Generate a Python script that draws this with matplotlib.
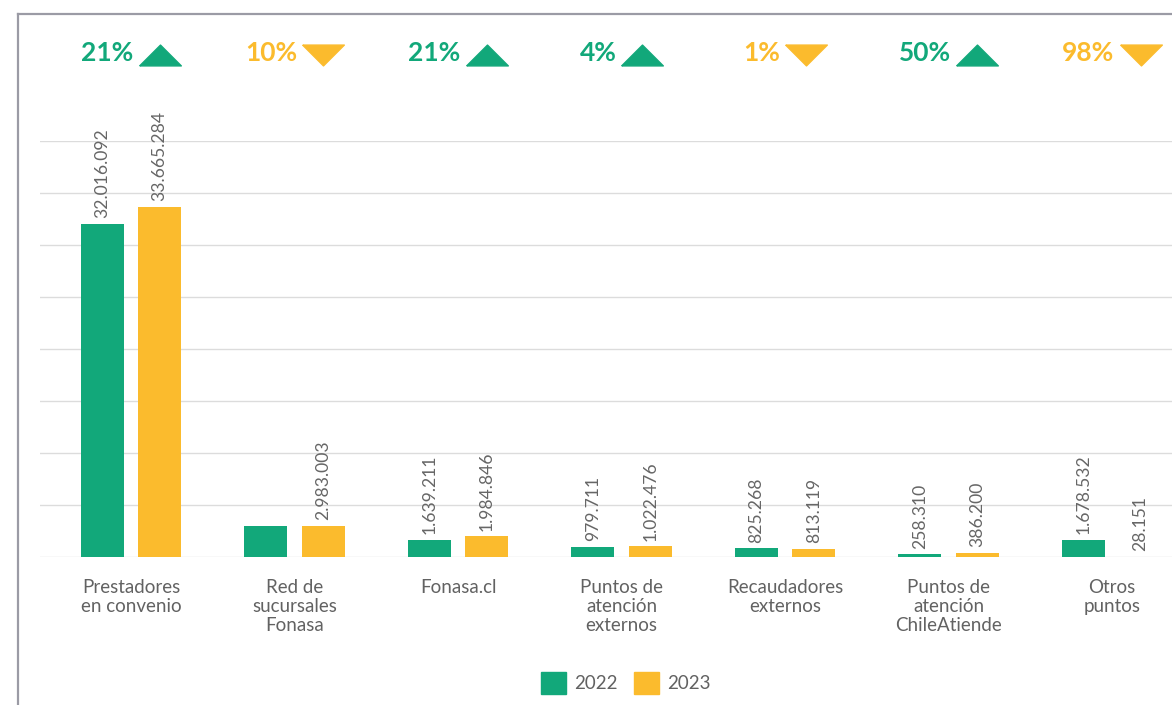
import matplotlib
matplotlib.use("Agg")
import numpy as np
import matplotlib.pyplot as plt
import matplotlib.transforms as mtransforms
from matplotlib.lines import Line2D
from matplotlib.patches import Patch

plt.rcParams['font.family'] = ['Lato', 'DejaVu Sans']

categories = ["Prestadores\nen convenio", "Red de\nsucursales\nFonasa", "Fonasa.cl",
              "Puntos de\natención\nexternos", "Recaudadores\nexternos",
              "Puntos de\natención\nChileAtiende", "Otros\npuntos"]
v2022 = [32016092, 2950000, 1639211, 979711, 825268, 258310, 1678532]
v2023 = [33665284, 2983003, 1984846, 1022476, 813119, 386200, 28151]
# the 2022 bar of "Red de sucursales" has no label in the original
lab2022 = ["32.016.092", "", "1.639.211", "979.711", "825.268", "258.310", "1.678.532"]
lab2023 = ["33.665.284", "2.983.003", "1.984.846", "1.022.476", "813.119", "386.200", "28.151"]
pct = ["21%", "10%", "21%", "4%", "1%", "50%", "98%"]
trend = ["up", "down", "up", "up", "down", "up", "down"]

GREEN = "#12a87a"
YELLOW = "#fbbb2d"
GRAY = "#626262"

W, H, DPI = 1172, 705, 100
fig = plt.figure(figsize=(W / DPI, H / DPI), dpi=DPI)
ax = fig.add_axes([40 / W, 1 - 557 / H, 1 - 40 / W, 416 / H])

x = np.arange(len(categories))
bw = 0.263
off = 0.175
ax.bar(x - off, v2022, bw, color=GREEN, zorder=3)
ax.bar(x + off, v2023, bw, color=YELLOW, zorder=3)

for xi, v, lab in zip(x - off, v2022, lab2022):
    if lab:
        ax.annotate(lab, (xi, v), xytext=(0, 4), textcoords="offset points",
                    rotation=90, ha="center", va="bottom", fontsize=12.6, color="#666666")
for xi, v, lab in zip(x + off, v2023, lab2023):
    ax.annotate(lab, (xi, v), xytext=(0, 4), textcoords="offset points",
                rotation=90, ha="center", va="bottom", fontsize=12.6, color="#666666")

xmin, xmax = -0.557, 6.367
ax.set_xlim(xmin, xmax)
ax.set_ylim(0, 40e6)
ax.set_yticks(np.arange(0, 40e6 + 1, 5e6))
ax.set_yticklabels([])
ax.tick_params(axis="y", length=0)
ax.grid(axis="y", color="#dcdcdc", lw=1, zorder=0)
ax.set_xticks(x)
ax.set_xticklabels(categories, fontsize=13.5, color=GRAY, linespacing=1.12)
ax.tick_params(axis="x", length=0, pad=16)
for s in ax.spines.values():
    s.set_visible(False)

# percentage row with up/down triangles
px_per_unit = (1 - 40 / W) * W / (xmax - xmin)
blend = mtransforms.blended_transform_factory(ax.transData, ax.transAxes)
yrow = (557 - 53) / 416
renderer = fig.canvas.get_renderer()
tri_w, gap = 42, 5
up = [(-1, -0.5), (1, -0.5), (0, 0.5), (-1, -0.5)]
down = [(-1, 0.5), (1, 0.5), (0, -0.5), (-1, 0.5)]
for i, (p, t) in enumerate(zip(pct, trend)):
    col = GREEN if t == "up" else YELLOW
    txt = ax.text(i, yrow, p, transform=blend, ha="left", va="center",
                  fontsize=19, fontweight="bold", color=col, clip_on=False)
    w = txt.get_window_extent(renderer).width
    total = w + gap + tri_w
    left = i - total / 2 / px_per_unit
    txt.set_x(left)
    tx = left + (w + gap + tri_w / 2) / px_per_unit
    ax.plot([tx], [yrow - 0.005], transform=blend, marker=up if t == "up" else down,
            markersize=30, color=col, clip_on=False, linestyle="none")

# legend
handles = [Patch(color=GREEN, label="2022"), Patch(color=YELLOW, label="2023")]
leg = fig.legend(handles=handles, loc="center", bbox_to_anchor=(626 / W, 1 - 683 / H),
                 ncol=2, frameon=False, fontsize=13.5, handlelength=1.3, handleheight=1.4,
                 handletextpad=0.45, columnspacing=0.9)
for t in leg.get_texts():
    t.set_color(GRAY)

# outer frame (left and top edges visible)
fy = 1 - 14 / H
fx = 18 / W
fig.add_artist(Line2D([fx, fx], [0, fy], color="#9b9ba5", lw=1.6, transform=fig.transFigure))
fig.add_artist(Line2D([fx, 1], [fy, fy], color="#9b9ba5", lw=1.6, transform=fig.transFigure))

fig.savefig("out.png", dpi=DPI)
